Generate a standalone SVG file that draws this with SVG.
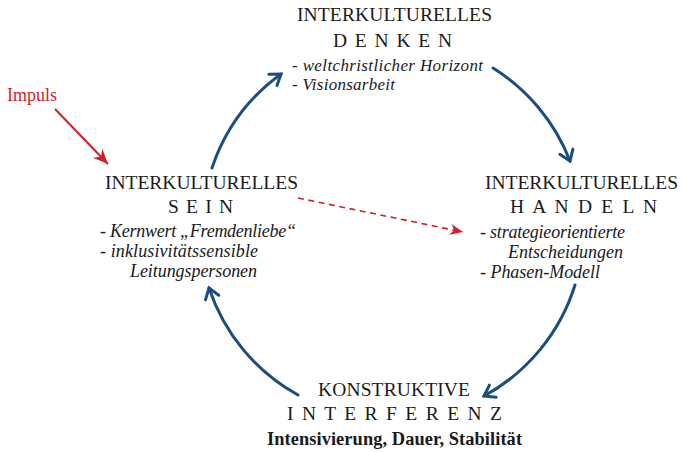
<svg xmlns="http://www.w3.org/2000/svg" width="682" height="452" viewBox="0 0 682 452" font-family="'Liberation Serif', 'Times New Roman', Times, serif">
<style>
text{fill:#1a1a1a}
.cap{font-size:19.5px}
.sp{font-size:19.5px}
.it{font-size:18px;font-style:italic}
.it2{font-size:17px;font-style:italic}
.bd{font-size:18.4px;font-weight:bold}
.red{fill:#cf1f2b;font-size:18px}
.arc{fill:none;stroke:#1b4e7e;stroke-width:3;stroke-linecap:round}
</style>
<defs>
<marker id="chev" markerUnits="userSpaceOnUse" viewBox="-14 -9 16 18" refX="0" refY="0" markerWidth="16" markerHeight="18" orient="auto" overflow="visible">
<path d="M-10,-7 L0,0 L-10,7" fill="none" stroke="#1b4e7e" stroke-width="3" stroke-linecap="round" stroke-linejoin="miter"/>
</marker>
<marker id="stealth" markerUnits="userSpaceOnUse" viewBox="-16 -8 18 16" refX="0" refY="0" markerWidth="18" markerHeight="16" orient="auto" overflow="visible">
<path d="M0,0 L-15,-6.5 L-10,0 L-15,6.5 Z" fill="#cf1f2b"/>
</marker>
<marker id="stealthS" markerUnits="userSpaceOnUse" viewBox="-14 -7 16 14" refX="0" refY="0" markerWidth="16" markerHeight="14" orient="auto" overflow="visible">
<path d="M0,0 L-13,-5.5 L-9,0 L-13,5.5 Z" fill="#cf1f2b"/>
</marker>
</defs>

<g id="connectors">
<path class="arc" d="M212,168 A191,191 0 0 1 281,74" marker-end="url(#chev)"/>
<path class="arc" d="M493,68 A191,191 0 0 1 570,161" marker-end="url(#chev)"/>
<path class="arc" d="M575,285 A191,191 0 0 1 484,396" marker-end="url(#chev)"/>
<path class="arc" d="M298,395 A191,191 0 0 1 209,288" marker-end="url(#chev)"/>
<path d="M55,109 L108,164" fill="none" stroke="#cf1f2b" stroke-width="2" marker-end="url(#stealth)"/>
<path d="M298,198 L463,232" fill="none" stroke="#cf1f2b" stroke-width="1.6" stroke-dasharray="6,4.5" marker-end="url(#stealthS)"/>
</g>

<g id="impuls">
<text class="red" x="7" y="101" textLength="50">Impuls</text>
</g>

<g id="denken">
<text class="cap" x="297" y="21" textLength="195">INTERKULTURELLES</text>
<text class="sp" x="333" y="47" textLength="119">D E N K E N</text>
<text class="it2" x="292" y="71" textLength="191">- weltchristlicher Horizont</text>
<text class="it2" x="292" y="90" textLength="103">- Visionsarbeit</text>
</g>

<g id="sein">
<text class="cap" x="105" y="189" textLength="193">INTERKULTURELLES</text>
<text class="sp" x="168" y="213" textLength="65">S E I N</text>
<text class="it" x="100" y="237" textLength="196">- Kernwert „Fremdenliebe“</text>
<text class="it" x="100" y="257" textLength="158">- inklusivitätssensible</text>
<text class="it" x="130" y="277" textLength="127">Leitungspersonen</text>
</g>

<g id="handeln">
<text class="cap" x="485" y="189" textLength="193">INTERKULTURELLES</text>
<text class="sp" x="510" y="213" textLength="147">H A N D E L N</text>
<text class="it" x="480" y="238" textLength="145">- strategieorientierte</text>
<text class="it" x="508" y="258" textLength="115">Entscheidungen</text>
<text class="it" x="480" y="278" textLength="120">- Phasen-Modell</text>
</g>

<g id="interferenz">
<text class="cap" x="318" y="396" textLength="152">KONSTRUKTIVE</text>
<text class="sp" x="287" y="420" textLength="215">I N T E R F E R E N Z</text>
<text class="bd" x="267" y="445" textLength="255">Intensivierung, Dauer, Stabilität</text>
</g>
</svg>
